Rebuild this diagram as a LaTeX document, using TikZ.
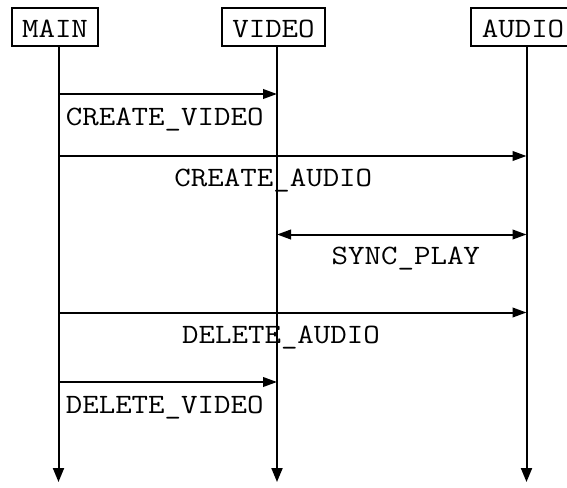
\documentclass[tikz,border=0pt]{standalone}
\usepackage{fontspec}
\usepackage{tikz}
\usetikzlibrary{arrows.meta, positioning, calc}
\newfontfamily\seqfont[FakeStretch=1.143]{Latin Modern Mono}

\begin{document}
\begin{tikzpicture}[
    x=0.5pt, y=-0.5pt,
    actor/.style={rectangle, draw, line width=1pt, font=\seqfont\fontsize{14}{16}\selectfont, inner xsep=5.2pt, inner ysep=4pt, text height=10.7pt, text depth=0pt},
    lbl/.style={font=\seqfont\fontsize{14}{16}\selectfont, anchor=base, inner sep=0pt},
    life/.style={-{Triangle[length=7pt, width=5.5pt]}, line width=1pt},
    msg/.style={-{Triangle[length=7pt, width=4.8pt]}, line width=1pt},
    bimsg/.style={{Triangle[length=7pt, width=4.8pt]}-{Triangle[length=7pt, width=4.8pt]}, line width=1pt}
]
\clip (0,0) rectangle (567,487);

% Actors
\node[actor] (main) at (55,27) {MAIN};
\node[actor] (video) at (273.5,27) {VIDEO};
\node[actor] (audio) at (523,27) {AUDIO};

% Lifelines
\coordinate (mainEnd) at (58.5,482);
\coordinate (videoEnd) at (277,482);
\coordinate (audioEnd) at (526.5,482);

\draw[life] (main.south -| mainEnd) -- (mainEnd);
\draw[life] (video.south -| videoEnd) -- (videoEnd);
\draw[life] (audio.south -| audioEnd) -- (audioEnd);

% Message rows
\coordinate (row1) at (0,94);
\coordinate (row2) at (0,156);
\coordinate (row3) at (0,234.5);
\coordinate (row4) at (0,312.5);
\coordinate (row5) at (0,382);

\draw[msg] (mainEnd |- row1) -- (videoEnd |- row1);
\draw[msg] (mainEnd |- row2) -- (audioEnd |- row2);
\draw[bimsg] (videoEnd |- row3) -- (audioEnd |- row3);
\draw[msg] (mainEnd |- row4) -- (audioEnd |- row4);
\draw[msg] (mainEnd |- row5) -- (videoEnd |- row5);

% Message labels
\node[lbl] (createVideo) at (164.7,125.7) {CREATE\_VIDEO};
\node[lbl] (createAudio) at (273.3,186) {CREATE\_AUDIO};
\node[lbl] (syncPlay) at (405.8,264.3) {SYNC\_PLAY};
\node[lbl] (deleteAudio) at (281,343.3) {DELETE\_AUDIO};
\node[lbl] (deleteVideo) at (164.7,413.3) {DELETE\_VIDEO};

\end{tikzpicture}
\end{document}
